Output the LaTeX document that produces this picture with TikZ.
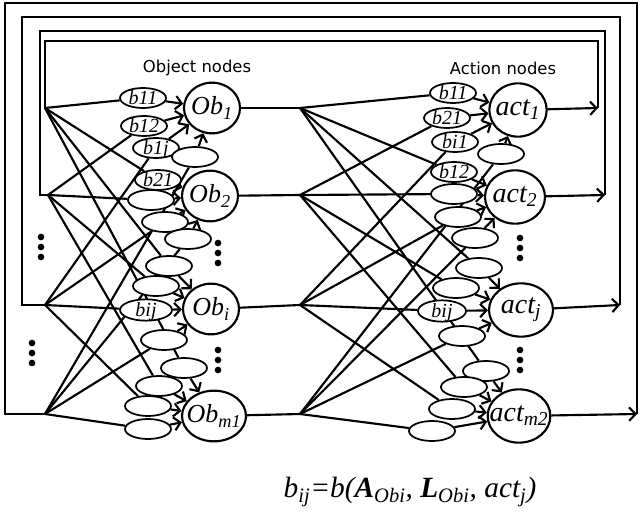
\documentclass[tikz,border=0pt]{standalone}
\usepackage{fontspec}
\setmainfont{Liberation Serif}
\newfontfamily\dvsans{DejaVu Sans}
\usetikzlibrary{arrows.meta,shapes.geometric,backgrounds}
\begin{document}
\begin{tikzpicture}[x=0.75pt,y=-0.75pt,
  ln/.style={line width=1.6pt},
  arr/.style={line width=1.6pt,-{Straight Barb[length=4.8pt,width=10pt]}},
  bel/.style={ellipse,draw,fill=white,line width=1.3pt,minimum width=34.5pt,minimum height=15pt,inner sep=0pt,text height=9.5pt,text depth=0pt,font=\fontsize{15}{15}\selectfont\itshape},
  cir/.style={ellipse,draw,fill=white,line width=1.6pt,minimum width=42pt,minimum height=38pt,inner sep=0pt,font=\fontsize{19.5}{20}\selectfont\itshape},
  acir/.style={cir,minimum height=40pt,font=\fontsize{21}{22}\selectfont\itshape},
  dotn/.style={circle,fill=black,inner sep=0pt,minimum size=5pt},
  hdr/.style={font=\dvsans\fontsize{12.3}{14}\selectfont}]
\useasboundingbox (0,0) rectangle (641,516);

% headers
\node[hdr] (hob) at (197,68) {Object nodes};
\node[hdr] (hact) at (503,68) {Action nodes};

% junctions, fan points, loop corners
\coordinate (J1) at (45,108);
\coordinate (J2) at (48,195);
\coordinate (Jj) at (45,305);
\coordinate (Jm) at (45,414);
\coordinate (F1) at (300,108);
\coordinate (F2) at (300,195);
\coordinate (Fi) at (300,305);
\coordinate (Fm) at (300,414);
\coordinate (o1) at (598,108);
\coordinate (o2) at (605,195);
\coordinate (o3) at (620,305);
\coordinate (o4) at (637,414);
\coordinate (c1a) at (598,41);  \coordinate (c1b) at (45,41);
\coordinate (c2a) at (605,31);  \coordinate (c2b) at (40,31);  \coordinate (c2c) at (40,195);
\coordinate (c3a) at (620,17);  \coordinate (c3b) at (22,17);  \coordinate (c3c) at (22,305);
\coordinate (c4a) at (637,3);   \coordinate (c4b) at (5,3);    \coordinate (c4c) at (5,414);

% circles
\node[cir] (Ob1) at (212,108) {\makebox[0pt]{Ob\textsubscript{1}}};
\node[cir] (Ob2) at (210,196) {\makebox[0pt]{Ob\textsubscript{2}}};
\node[cir] (Obi) at (211,309) {\makebox[0pt]{Ob\textsubscript{i}}};
\node[cir,minimum width=48pt] (Obm) at (214,416) {\makebox[0pt]{Ob\textsubscript{m1}}};
\node[acir,minimum width=43pt] (act1) at (518,110) {\makebox[0pt]{act\textsubscript{1}}};
\node[acir,minimum width=45pt] (act2) at (515,197) {\makebox[0pt]{act\textsubscript{2}}};
\node[acir,minimum width=48pt] (actj) at (521,310) {\makebox[0pt]{act\textsubscript{j}}};
\node[acir,minimum width=47pt] (actm) at (519,416) {\makebox[0pt]{act\textsubscript{m2}}};

% object-side ellipses
\node[bel] (e11) at (143,98) {b11};
\node[bel] (e12) at (144,126) {b12};
\node[bel] (e1j) at (156,148) {b1j};
\node[bel] (e1m) at (195,157) {};
\node[bel] (e21) at (158,180) {b21};
\node[bel] (e22) at (151,200) {};
\node[bel] (e2j) at (165,222) {};
\node[bel] (e2m) at (188,239) {};
\node[bel] (ei1) at (169,266) {};
\node[bel] (ei2) at (156,286) {};
\node[bel,minimum width=39pt,minimum height=16pt] (eij) at (146,310) {bij};
\node[bel] (eim) at (164,340) {};
\node[bel] (em1) at (184,368) {};
\node[bel] (em2) at (159,386) {};
\node[bel] (emj) at (148,406) {};
\node[bel] (emm) at (148,429) {};

% action-side ellipses
\node[bel] (a11) at (453,93) {b11};
\node[bel] (a21) at (447,118) {b21};
\node[bel] (ai1) at (455,142) {bi1};
\node[bel] (am1) at (501,154) {};
\node[bel] (a12) at (454,172) {b12};
\node[bel] (a22) at (454,194) {};
\node[bel] (ai2) at (458,217) {};
\node[bel] (am2) at (475,238) {};
\node[bel] (a1j) at (479,268) {};
\node[bel] (a2j) at (456,288) {};
\node[bel,minimum width=36pt,minimum height=16pt] (aij) at (442,311) {bij};
\node[bel] (amj) at (462,336) {};
\node[bel] (a1m) at (486,371) {};
\node[bel] (a2m) at (464,387) {};
\node[bel] (aim) at (452,409) {};
\node[bel] (amm) at (432,431) {};

% dots
\foreach \n/\x/\y in {l1/41/237,l2/41/247,l3/41/257,m1/32/343,m2/32/353,m3/32/363,
  p1/218/243,p2/218/253,p3/218/263,q1/218/350,q2/218/360,q3/218/370,
  r1/520/238,r2/520/248,r3/520/258,s1/520/350,s2/520/360,s3/520/370}
  \node[dotn] (\n) at (\x,\y) {};

% formula
\node[font=\fontsize{22}{24}\selectfont\itshape] (formula) at (410,492)
  {b\textsubscript{ij}=b(\textbf{A}\textsubscript{Obi}, \textbf{L}\textsubscript{Obi}, act\textsubscript{j})};

\begin{scope}[on background layer]
  % feedback loops
  \draw[ln] (o1) -- (c1a) -- (c1b) -- (J1);
  \draw[ln] (o2) -- (c2a) -- (c2b) -- (c2c) -- (J2);
  \draw[ln] (o3) -- (c3a) -- (c3b) -- (c3c) -- (Jj);
  \draw[ln] (o4) -- (c4a) -- (c4b) -- (c4c) -- (Jm);
  \draw[arr] (act1) -- (o1);
  \draw[arr] (act2) -- (o2);
  \draw[arr] (actj) -- (o3);
  \draw[arr] (actm) -- (o4);
  % object outputs to fan points
  \draw[ln] (Ob1) -- (F1);
  \draw[ln] (Ob2) -- (F2);
  \draw[ln] (Obi) -- (Fi);
  \draw[ln] (Obm) -- (Fm);
  % junctions to object-side ellipses
  \foreach \s/\t in {J1/e11,J2/e12,Jj/e1j,Jm/e1m,J1/e21,J2/e22,Jj/e2j,Jm/e2m,
    J1/ei1,J2/ei2,Jj/eij,Jm/eim,J1/em1,J2/em2,Jj/emj,Jm/emm}
    \draw[ln] (\s) -- (\t);
  \foreach \s/\t in {e11/Ob1,e12/Ob1,e1j/Ob1,e1m/Ob1,e21/Ob2,e22/Ob2,e2j/Ob2,e2m/Ob2,
    ei1/Obi,ei2/Obi,eij/Obi,eim/Obi,em1/Obm,em2/Obm,emj/Obm,emm/Obm}
    \draw[arr] (\s) -- (\t);
  % fan points to action-side ellipses
  \foreach \s/\t in {F1/a11,F2/a21,Fi/ai1,Fm/am1,F1/a12,F2/a22,Fi/ai2,Fm/am2,
    F1/a1j,F2/a2j,Fi/aij,Fm/amj,F1/a1m,F2/a2m,Fi/aim,Fm/amm}
    \draw[ln] (\s) -- (\t);
  \foreach \s/\t in {a11/act1,a21/act1,ai1/act1,am1/act1,a12/act2,a22/act2,ai2/act2,am2/act2,
    a1j/actj,a2j/actj,aij/actj,amj/actj,a1m/actm,a2m/actm,aim/actm,amm/actm}
    \draw[arr] (\s) -- (\t);
\end{scope}
\end{tikzpicture}
\end{document}
